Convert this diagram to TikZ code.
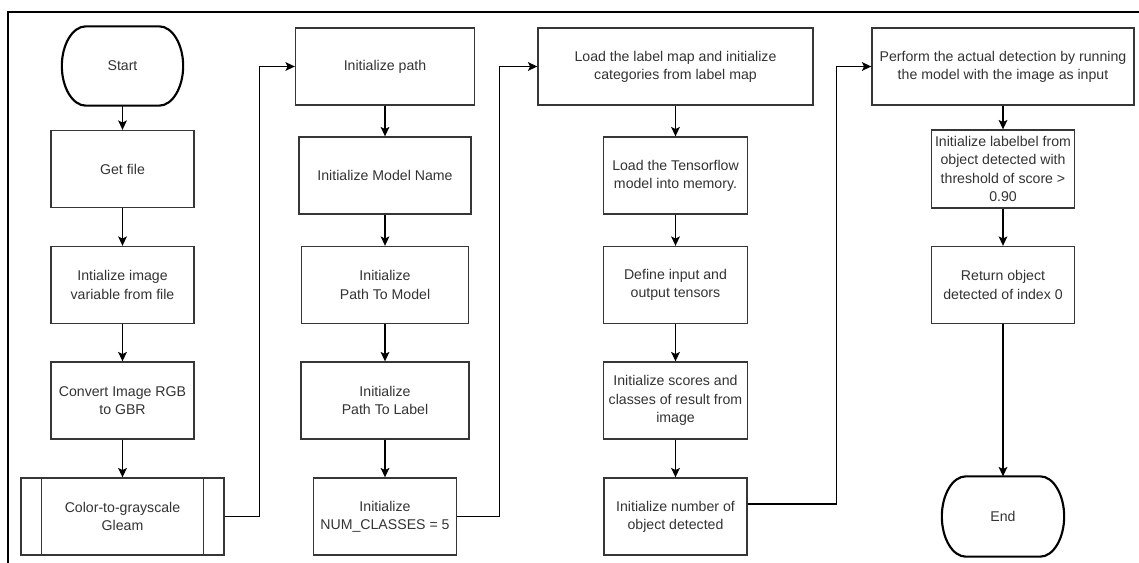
\documentclass[tikz,border=0pt]{standalone}
\usepackage{fontspec}
\setmainfont{Liberation Sans}
\usepackage{xcolor}
\usepackage{tikz}
\usetikzlibrary{arrows.meta}
\definecolor{ink}{HTML}{333333}
\definecolor{edge}{HTML}{363636}
\tikzset{
  box/.style={draw=edge, line width=1pt, fill=white, text=ink, align=center,
    minimum height=57.75pt, inner sep=1pt, font=\fontsize{10.6}{13.7}\selectfont},
  term/.style={box, draw=none},
  termline/.style={draw=black, line width=1.6pt},
  subline/.style={draw=edge, line width=1pt},
  arr/.style={draw=black, line width=0.9pt, -{Stealth[length=7pt,width=6.5pt,inset=1.5pt]}},
  frame/.style={draw=black, line width=1.6pt},
}

\begin{document}
\begin{tikzpicture}[x=0.75pt,y=-0.75pt]
  \useasboundingbox (0,0) rectangle (1139,563);
  \coordinate (fbl) at (8,563);
  \coordinate (ftl) at (8,12);
  \coordinate (ftr) at (1139,12);
  \draw[frame] (fbl) -- (ftl) -- (ftr);

  % column 1
  \node[term, minimum width=90pt, minimum height=58.5pt] (start) at (122.5,66) {Start};
  \node[box, minimum width=107.25pt] (getfile) at (122.5,169) {Get file};
  \node[box, minimum width=107.25pt] (imgvar) at (122.5,285) {Intialize image\\variable from file};
  \node[box, minimum width=107.25pt] (convert) at (122.5,400.5) {Convert Image RGB\\to GBR};
  \node[box, minimum width=152.25pt] (gleam) at (122.5,516.5) {Color-to-grayscale\\Gleam};
  \draw[subline] ([xshift=15.75pt]gleam.north west) -- ([xshift=15.75pt]gleam.south west);
  \draw[subline] ([xshift=-15.75pt]gleam.north east) -- ([xshift=-15.75pt]gleam.south east);

  % column 2
  \node[box, minimum width=134.25pt] (path) at (385,66.5) {Initialize path};
  \node[box, minimum width=129pt] (mname) at (385,175.5) {Initialize Model Name};
  \node[box, minimum width=125.25pt] (pmodel) at (385,285) {Initialize\\Path To Model};
  \node[box, minimum width=126pt] (plabel) at (385,400.5) {Initialize\\Path To Label};
  \node[box, minimum width=107.25pt] (numcls) at (385,516.5) {Initialize\\NUM\_CLASSES = 5};

  % column 3
  \node[box, minimum width=206.25pt] (loadmap) at (675.5,66.5) {Load the label map and initialize\\categories from label map};
  \node[box, minimum width=108pt] (tfmodel) at (675.5,175.5) {Load the Tensorflow\\model into memory.};
  \node[box, minimum width=108pt] (tensors) at (675.5,285) {Define input and\\output tensors};
  \node[box, minimum width=108pt] (scores) at (675.5,400.5) {Initialize scores and\\classes of result from\\image};
  \node[box, minimum width=107.25pt] (number) at (675.5,516.5) {Initialize number of\\object detected};

  % column 4
  \node[box, minimum width=196.5pt] (perform) at (1003,66.5) {Perform the actual detection by running\\the model with the image as input};
  \node[box, minimum width=107.25pt, minimum height=58.5pt] (labelbel) at (1003,169) {Initialize labelbel from\\object detected with\\threshold of score >\\0.90};
  \node[box, minimum width=107.25pt] (retobj) at (1003,285) {Return object\\detected of index 0};
  \node[term, minimum width=90.75pt, minimum height=59.25pt] (end) at (1003,516.5) {End};

  % terminator outlines (elliptic ends, 18pt deep)
  \foreach \t/\k in {start/16.15pt, end/16.35pt}
    \draw[termline] ([xshift=18pt]\t.north west) -- ([xshift=-18pt]\t.north east)
      .. controls ([xshift=-8.06pt]\t.north east) and ([yshift=\k]\t.east) .. (\t.east)
      .. controls ([yshift=-\k]\t.east) and ([xshift=-8.06pt]\t.south east) .. ([xshift=-18pt]\t.south east)
      -- ([xshift=18pt]\t.south west)
      .. controls ([xshift=8.06pt]\t.south west) and ([yshift=-\k]\t.west) .. (\t.west)
      .. controls ([yshift=\k]\t.west) and ([xshift=8.06pt]\t.north west) .. ([xshift=18pt]\t.north west)
      -- cycle;

  % flow
  \draw[arr] (start) -- (getfile);
  \draw[arr] (getfile) -- (imgvar);
  \draw[arr] (imgvar) -- (convert);
  \draw[arr] (convert) -- (gleam);
  \draw[arr] (gleam.east) -- ++(35,0) |- (path.west);
  \draw[arr] (path) -- (mname);
  \draw[arr] (mname) -- (pmodel);
  \draw[arr] (pmodel) -- (plabel);
  \draw[arr] (plabel) -- (numcls);
  \draw[arr] (numcls.east) -- ++(42,0) |- (loadmap.west);
  \draw[arr] (loadmap) -- (tfmodel);
  \draw[arr] (tfmodel) -- (tensors);
  \draw[arr] (tensors) -- (scores);
  \draw[arr] (scores) -- (number);
  \draw[arr] ([yshift=9.4pt]number.east) -- ++(89,0) |- (perform.west);
  \draw[arr] (perform) -- (labelbel);
  \draw[arr] (labelbel) -- (retobj);
  \draw[arr] (retobj) -- (end);
\end{tikzpicture}
\end{document}
